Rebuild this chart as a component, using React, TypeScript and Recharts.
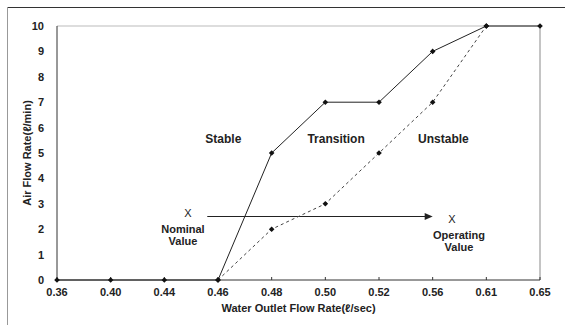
import React from 'react';
import {
  LineChart,
  Line,
  XAxis,
  YAxis,
  ReferenceLine,
  ReferenceDot,
  Label,
} from 'recharts';

const flowRates = ['0.36', '0.40', '0.44', '0.46', '0.48', '0.50', '0.52', '0.56', '0.61', '0.65'];
const stableLimit = [0, 0, 0, 0, 5, 7, 7, 9, 10, 10];
const unstableLimit = [null, null, null, 0, 2, 3, 5, 7, 10, null];
const yTicks = [0, 1, 2, 3, 4, 5, 6, 7, 8, 9, 10];

const regionLabels = [
  { x: 3.1, y: 5.55, text: 'Stable' },
  { x: 5.2, y: 5.55, text: 'Transition' },
  { x: 7.2, y: 5.55, text: 'Unstable' },
];
const valueMarks = [
  { x: 2.44, y: 2.65, lines: ['Nominal', 'Value'], dx: -5 },
  { x: 7.36, y: 2.4, lines: ['Operating', 'Value'], dx: 7 },
];
const arrow = { from: 2.8, to: 7.0, y: 2.5 };

const data = flowRates.map((_, i) => ({
  idx: i,
  stable: stableLimit[i],
  unstable: unstableLimit[i],
}));

const font = '"Liberation Sans", Arial, sans-serif';

const Diamond = (props: any) => {
  const { cx, cy } = props;
  if (cx == null || cy == null || props.value == null) return <g />;
  return <path d={`M${cx},${cy - 2.8}L${cx + 2.8},${cy}L${cx},${cy + 2.8}L${cx - 2.8},${cy}Z`} fill="#111" />;
};

export default function App() {
  return (
    <div style={{ position: 'absolute', left: 0, top: 0, width: 565, height: 325, background: '#fff' }}>
      <div style={{ position: 'absolute', left: 7, top: 7, width: 558, height: 1, background: '#333' }} />
      <div style={{ position: 'absolute', left: 7, top: 7, width: 1, height: 318, background: '#999' }} />
      <LineChart
        width={565}
        height={325}
        data={data}
        margin={{ top: 26, right: 25, left: 0, bottom: 0 }}
        style={{ fontFamily: font, fontWeight: 'bold' }}
      >
        <ReferenceLine y={10} stroke="#bbb" />
        <ReferenceLine x={9} stroke="#c4c4c4" strokeWidth={2} />
        <XAxis
          dataKey="idx"
          type="number"
          domain={[0, 9]}
          ticks={flowRates.map((_, i) => i)}
          tickFormatter={(v: number) => flowRates[v]}
          height={45}
          stroke="#333"
          tickSize={-3}
          tickMargin={11}
          tick={{ fill: '#222', fontSize: 11, fontWeight: 'bold' }}
        >
          <Label
            value="Water Outlet Flow Rate(ℓ/sec)"
            position="center"
            dy={6}
            style={{ fill: '#222', fontSize: 11, fontWeight: 'bold' }}
          />
        </XAxis>
        <YAxis
          domain={[0, 10]}
          ticks={yTicks}
          width={57}
          stroke="#333"
          tickLine={false}
          tickMargin={7}
          tick={{ fill: '#222', fontSize: 11, fontWeight: 'bold' }}
        >
          <Label
            value="Air Flow Rate(ℓ/min)"
            angle={-90}
            position="center"
            dx={-1}
            style={{ fill: '#222', fontSize: 11, fontWeight: 'bold', textAnchor: 'middle' }}
          />
        </YAxis>
        <ReferenceLine
          segment={[{ x: arrow.from, y: arrow.y }, { x: arrow.to - 0.1, y: arrow.y }]}
          stroke="#222"
        />
        <ReferenceDot
          x={arrow.to}
          y={arrow.y}
          r={0}
          shape={(p: any) => (
            <path d={`M${p.cx},${p.cy}L${p.cx - 8},${p.cy - 3.5}L${p.cx - 8},${p.cy + 3.5}Z`} fill="#222" />
          )}
        />
        {regionLabels.map((r) => (
          <ReferenceDot
            key={r.text}
            x={r.x}
            y={r.y}
            r={0}
            shape={(p: any) => (
              <text x={p.cx} y={p.cy + 4} textAnchor="middle" fontSize={12} fontWeight="bold" fill="#222" fontFamily={font}>
                {r.text}
              </text>
            )}
          />
        ))}
        {valueMarks.map((m) => (
          <ReferenceDot
            key={m.lines[0]}
            x={m.x}
            y={m.y}
            r={0}
            shape={(p: any) => (
              <g fontFamily={font} fontSize={11} fontWeight="bold" fill="#222" textAnchor="middle">
                <text x={p.cx} y={p.cy + 4} fontWeight="normal" fontSize={11}>X</text>
                <text x={p.cx + m.dx} y={p.cy + 20}>{m.lines[0]}</text>
                <text x={p.cx + m.dx} y={p.cy + 32}>{m.lines[1]}</text>
              </g>
            )}
          />
        ))}
        <Line
          dataKey="unstable"
          stroke="#444"
          strokeDasharray="3 3"
          strokeWidth={1}
          dot={<Diamond />}
          activeDot={false}
          isAnimationActive={false}
        />
        <Line
          dataKey="stable"
          stroke="#222"
          strokeWidth={1}
          dot={<Diamond />}
          activeDot={false}
          isAnimationActive={false}
        />
      </LineChart>
    </div>
  );
}
